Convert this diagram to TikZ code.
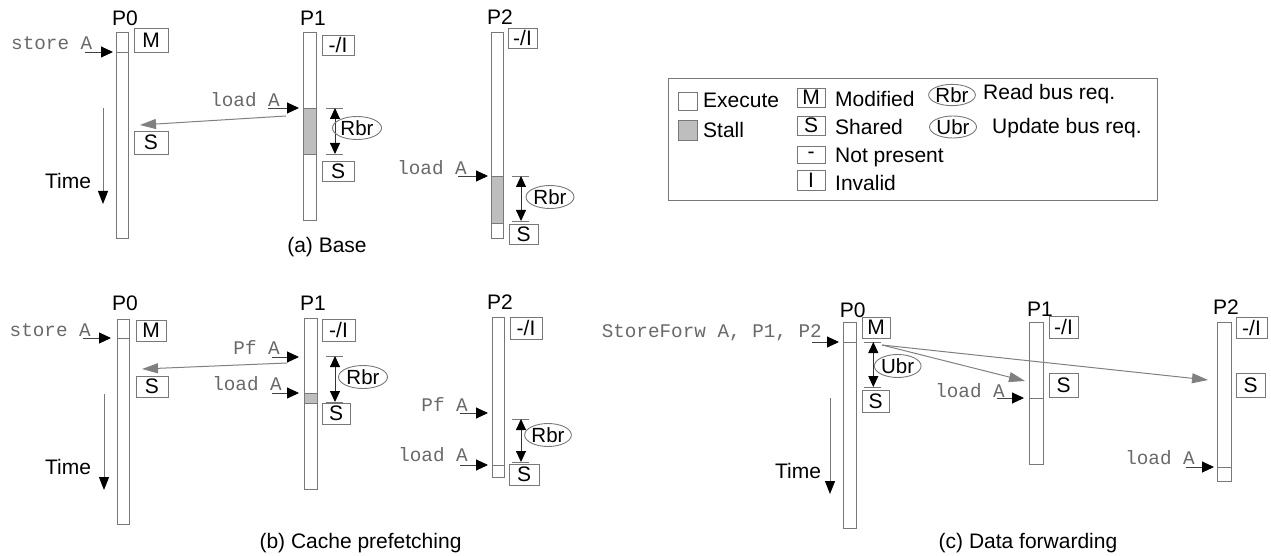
\documentclass[tikz,border=0pt]{standalone}
\usepackage{fontspec}
\setmainfont{Liberation Sans}
\setmonofont{Liberation Mono}
\usetikzlibrary{arrows.meta,shapes.geometric}
\definecolor{edge}{RGB}{120,120,120}
\definecolor{monog}{RGB}{105,105,105}
\definecolor{stallc}{RGB}{190,190,190}
\definecolor{busc}{RGB}{128,128,128}
\newcommand\sansbig{\fontsize{21}{24}\selectfont}
\newcommand\monosz{\ttfamily\fontsize{19.3}{22}\selectfont}
\tikzset{
 bar/.style={draw=edge, line width=0.9pt, fill=white, inner sep=0pt, outer sep=0pt},
 stall/.style={draw=edge, line width=0.9pt, fill=stallc, inner sep=0pt, outer sep=0pt},
 sbox/.style={draw=edge, line width=0.9pt, fill=white, inner sep=0pt, font=\sansbig},
 ell/.style={ellipse, draw=edge, line width=0.9pt, inner sep=0pt, font=\fontsize{20.5}{22}\selectfont},
 plabel/.style={inner sep=0pt, font=\sansbig},
 code/.style={inner sep=0pt, text=monog, font=\monosz},
 txt/.style={inner sep=0pt, font=\sansbig},
 barline/.style={draw=edge, line width=0.9pt},
 inarrow/.style={draw=black!75, line width=0.9pt, -{Triangle[length=12pt,width=11pt,color=black]}},
 timearrow/.style={draw=edge, line width=1pt, -{Triangle[length=13pt,width=10pt,color=black]}},
 busarrow/.style={draw=busc, line width=1pt, -{Triangle[length=16pt,width=10pt]}},
 dblarrow/.style={draw=black!80, line width=0.9pt, {Triangle[length=11pt,width=10pt,color=black]}-{Triangle[length=11pt,width=10pt,color=black]}},
 tickline/.style={draw=edge, line width=0.9pt},
}
\begin{document}
\begin{tikzpicture}[x=1pt,y=-1pt]
\useasboundingbox (0,0) rectangle (1271,556);
% ================= (a) Base =================
\node[plabel] (aP0) at (125,18) {P0};
\node[bar, minimum width=12, minimum height=206] (a0) at (122,135) {};
\draw[barline] (a0.west |- 0,52) -- (a0.east |- 0,52);
\node[sbox, minimum width=34, minimum height=24] (a0M) at (151,40) {M};
\node[sbox, minimum width=34, minimum height=23] (a0S) at (151,142.5) {S};
\node[code, anchor=west] (a0st) at (11,43) {store A};
\coordinate (a0i1) at (85,52); \coordinate (a0i2) at (113,52);
\draw[inarrow] (a0i1) -- (a0i2);
\coordinate (aT1) at (103,108); \coordinate (aT2) at (103,204);
\draw[timearrow] (aT1) -- (aT2);
\node[txt] (aTime) at (68,181) {Time};

\node[plabel] (aP1) at (313,18) {P1};
\node[bar, minimum width=13, minimum height=188] (a1) at (309.5,126) {};
\node[stall, minimum width=13, minimum height=46] (a1s) at (309.5,131) {};
\node[sbox, minimum width=32, minimum height=20] (a1I) at (338,45) {-/I};
\node[sbox, minimum width=32, minimum height=20] (a1S) at (338,171.5) {S};
\node[code, anchor=east] (a1ld) at (280,100) {load A};
\coordinate (a1i1) at (268,108); \coordinate (a1i2) at (299,108);
\draw[inarrow] (a1i1) -- (a1i2);
\coordinate (a1r1) at (335,108); \coordinate (a1r2) at (335,154);
\draw[tickline] ([xshift=-9pt]a1r1) -- ([xshift=8pt]a1r1);
\draw[tickline] ([xshift=-9pt]a1r2) -- ([xshift=8pt]a1r2);
\draw[dblarrow] (a1r1) -- (a1r2);
\node[ell, minimum width=49, minimum height=23] (a1R) at (357,128) {Rbr};
\coordinate (a1b1) at (286,116); \coordinate (a1b2) at (140,125);
\draw[busarrow] (a1b1) -- (a1b2);

\node[plabel] (aP2) at (500,17) {P2};
\node[bar, minimum width=12, minimum height=206] (a2) at (497,135) {};
\node[stall, minimum width=12, minimum height=47] (a2s) at (497,199.5) {};
\node[sbox, minimum width=29, minimum height=20] (a2I) at (522.5,38) {-/I};
\node[code, anchor=east] (a2ld) at (467,168) {load A};
\coordinate (a2i1) at (458,176); \coordinate (a2i2) at (488,176);
\draw[inarrow] (a2i1) -- (a2i2);
\coordinate (a2r1) at (521,176); \coordinate (a2r2) at (521,221);
\draw[tickline] ([xshift=-9pt]a2r1) -- ([xshift=8pt]a2r1);
\draw[tickline] ([xshift=-9pt]a2r2) -- ([xshift=8pt]a2r2);
\draw[dblarrow] (a2r1) -- (a2r2);
\node[ell, minimum width=48, minimum height=23] (a2R) at (550,197) {Rbr};
\node[sbox, minimum width=29, minimum height=20] (a2S) at (523.5,234) {S};
\node[txt] (capa) at (327,247) {(a) Base};

% ================= Legend =================
\node[draw=edge, line width=0.9pt, minimum width=489, minimum height=122, inner sep=0pt] (leg) at (912.5,139) {};
\node[bar, minimum width=19, minimum height=18] (lgE) at (687.5,101) {};
\node[txt, anchor=base west] (lgEt) at (703,107.5) {Execute};
\node[stall, minimum width=19, minimum height=20] (lgS) at (687.5,130) {};
\node[txt, anchor=base west] (lgSt) at (703,138) {Stall};
\node[sbox, minimum width=28, minimum height=19] (lgM) at (811,97.5) {M};
\node[txt, anchor=base west] (lgMt) at (835,107) {Modified};
\node[sbox, minimum width=28, minimum height=19] (lgSh) at (811,125.5) {S};
\node[txt, anchor=base west] (lgSht) at (835,135) {Shared};
\node[sbox, minimum width=28, minimum height=17] (lgN) at (811,155) {-};
\node[txt, anchor=base west] (lgNt) at (835,163) {Not present};
\node[sbox, minimum width=28, minimum height=20] (lgI) at (811,180) {I};
\node[txt, anchor=base west] (lgIt) at (835,190.5) {Invalid};
\node[ell, minimum width=45, minimum height=20] (lgR) at (952,95) {Rbr};
\node[txt, anchor=base west] (lgRt) at (983,100) {Read bus req.};
\node[ell, minimum width=47, minimum height=22] (lgU) at (953,127) {Ubr};
\node[txt, anchor=base west] (lgUt) at (992,133.5) {Update bus req.};

% ================= (b) Cache prefetching =================
\node[plabel] (bP0) at (125,303) {P0};
\node[bar, minimum width=12, minimum height=205] (b0) at (123,421.5) {};
\draw[barline] (b0.west |- 0,338) -- (b0.east |- 0,338);
\node[sbox, minimum width=30, minimum height=21] (b0M) at (151,330.5) {M};
\node[sbox, minimum width=32, minimum height=21] (b0S) at (152,386.5) {S};
\node[code, anchor=west] (b0st) at (9.5,330) {store A};
\coordinate (b0i1) at (83,338); \coordinate (b0i2) at (111,338);
\draw[inarrow] (b0i1) -- (b0i2);
\coordinate (bT1) at (104,394); \coordinate (bT2) at (104,490);
\draw[timearrow] (bT1) -- (bT2);
\node[txt] (bTime) at (68,467) {Time};

\node[plabel] (bP1) at (313,303) {P1};
\node[bar, minimum width=13, minimum height=171] (b1) at (310.5,403.5) {};
\node[stall, minimum width=13, minimum height=10] (b1s) at (310.5,398) {};
\node[sbox, minimum width=33, minimum height=22] (b1I) at (338.5,330) {-/I};
\node[code, anchor=east] (b1pf) at (280,348) {Pf A};
\coordinate (b1p1) at (272,357); \coordinate (b1p2) at (299,357);
\draw[inarrow] (b1p1) -- (b1p2);
\node[code, anchor=east] (b1ld) at (282,384) {load A};
\coordinate (b1i1) at (272,393); \coordinate (b1i2) at (299,393);
\draw[inarrow] (b1i1) -- (b1i2);
\coordinate (b1r1) at (335,356); \coordinate (b1r2) at (335,402);
\draw[tickline] ([xshift=-9pt]b1r1) -- ([xshift=8pt]b1r1);
\draw[tickline] ([xshift=-9pt]b1r2) -- ([xshift=8pt]b1r2);
\draw[dblarrow] (b1r1) -- (b1r2);
\node[ell, minimum width=49, minimum height=23] (b1R) at (363,377) {Rbr};
\node[sbox, minimum width=28, minimum height=21] (b1S) at (336,413.5) {S};
\coordinate (b1b1) at (287,363); \coordinate (b1b2) at (142,369);
\draw[busarrow] (b1b1) -- (b1b2);

\node[plabel] (bP2) at (500,302) {P2};
\node[bar, minimum width=12, minimum height=160] (b2) at (498,397) {};
\draw[barline] (b2.west |- 0,465) -- (b2.east |- 0,465);
\node[sbox, minimum width=32, minimum height=22] (b2I) at (526,328) {-/I};
\node[code, anchor=east] (b2pf) at (468,405) {Pf A};
\coordinate (b2p1) at (460,413); \coordinate (b2p2) at (488,413);
\draw[inarrow] (b2p1) -- (b2p2);
\node[code, anchor=east] (b2ld) at (468,455) {load A};
\coordinate (b2i1) at (460,465); \coordinate (b2i2) at (488,465);
\draw[inarrow] (b2i1) -- (b2i2);
\coordinate (b2r1) at (521,419); \coordinate (b2r2) at (521,462);
\draw[tickline] ([xshift=-9pt]b2r1) -- ([xshift=8pt]b2r1);
\draw[tickline] ([xshift=-9pt]b2r2) -- ([xshift=8pt]b2r2);
\draw[dblarrow] (b2r1) -- (b2r2);
\node[ell, minimum width=46, minimum height=23] (b2R) at (548,435) {Rbr};
\node[sbox, minimum width=30, minimum height=21] (b2S) at (524,474.5) {S};
\node[txt] (capb) at (360.5,543) {(b) Cache prefetching};

% ================= (c) Data forwarding =================
\node[plabel] (cP0) at (852.7,310) {P0};
\node[bar, minimum width=13, minimum height=206] (c0) at (849.5,425) {};
\draw[barline] (c0.west |- 0,342) -- (c0.east |- 0,342);
\node[sbox, minimum width=28, minimum height=21] (c0M) at (876,327.5) {M};
\node[sbox, minimum width=27, minimum height=22] (c0S) at (875.5,401) {S};
\node[code, anchor=east] (c0sf) at (822,333) {StoreForw A, P1, P2};
\coordinate (c0i1) at (812,342); \coordinate (c0i2) at (839,342);
\draw[inarrow] (c0i1) -- (c0i2);
\coordinate (c0r1) at (873.3,342); \coordinate (c0r2) at (873.3,387);
\draw[tickline] ([xshift=-9pt]c0r1) -- ([xshift=8pt]c0r1);
\draw[tickline] ([xshift=-9pt]c0r2) -- ([xshift=8pt]c0r2);
\draw[dblarrow] (c0r1) -- (c0r2);
\node[ell, minimum width=44, minimum height=23] (c0U) at (897.7,366) {Ubr};
\coordinate (cT1) at (830,398); \coordinate (cT2) at (830,494);
\draw[timearrow] (cT1) -- (cT2);
\node[txt] (cTime) at (798,471) {Time};

\node[plabel] (cP1) at (1040,309) {P1};
\node[bar, minimum width=14, minimum height=142] (c1) at (1036,393) {};
\draw[barline] (c1.west |- 0,398) -- (c1.east |- 0,398);
\node[sbox, minimum width=29, minimum height=22] (c1I) at (1063.5,327) {-/I};
\node[sbox, minimum width=29, minimum height=24] (c1S) at (1063.5,385) {S};
\node[code, anchor=east] (c1ld) at (1005,391) {load A};
\coordinate (c1i1) at (997,398); \coordinate (c1i2) at (1024,398);
\draw[inarrow] (c1i1) -- (c1i2);

\node[plabel] (cP2) at (1226,307) {P2};
\node[bar, minimum width=14, minimum height=159] (c2) at (1224,401.5) {};
\draw[barline] (c2.west |- 0,467) -- (c2.east |- 0,467);
\node[sbox, minimum width=31, minimum height=21] (c2I) at (1251.5,327.5) {-/I};
\node[sbox, minimum width=29, minimum height=24] (c2S) at (1250.5,385) {S};
\node[code, anchor=east] (c2ld) at (1195,458) {load A};
\coordinate (c2i1) at (1186,467); \coordinate (c2i2) at (1214,467);
\draw[inarrow] (c2i1) -- (c2i2);

\coordinate (cb0) at (882,345);
\coordinate (cb1) at (1025,381); \coordinate (cb2) at (1208,380);
\draw[busarrow] (cb0) -- (cb1);
\draw[busarrow] (cb0) -- (cb2);
\node[txt] (capc) at (1028,543) {(c) Data forwarding};
\end{tikzpicture}
\end{document}
